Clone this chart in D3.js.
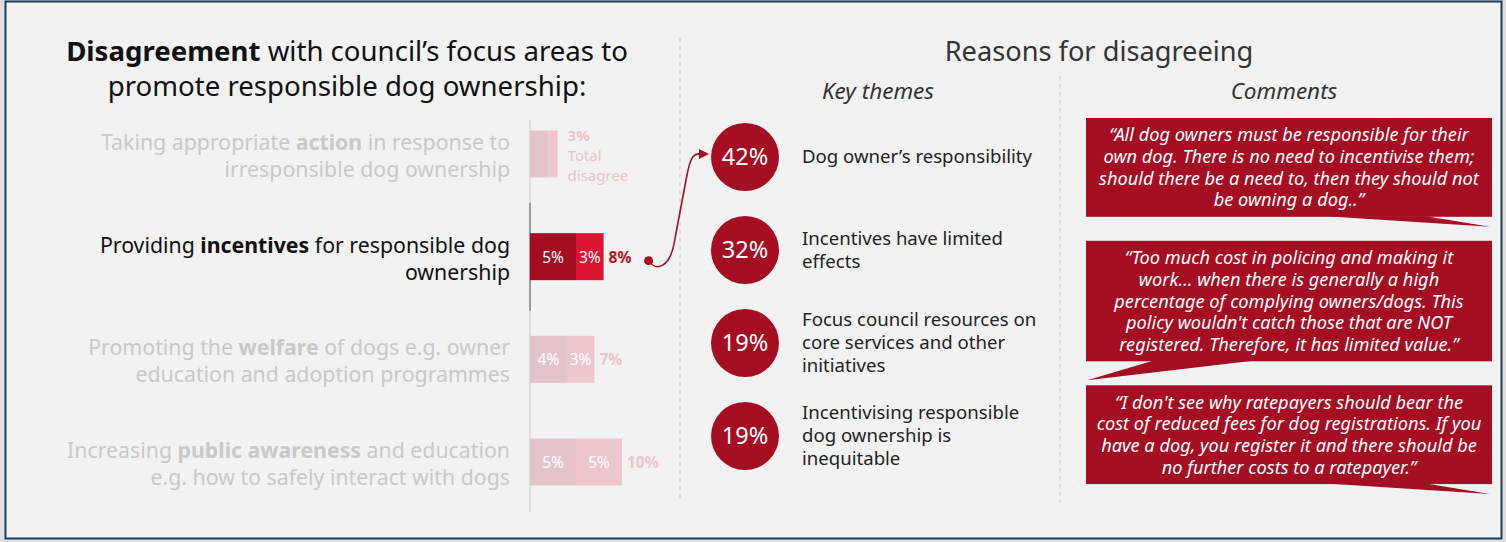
<!DOCTYPE html>
<html>
<head>
<meta charset="utf-8">
<script src="https://cdn.jsdelivr.net/npm/d3@7"></script>
<style>
  html, body { margin: 0; padding: 0; background: #dedede; }
  svg { display: block; }
  text { font-family: "Noto Sans", "Open Sans", sans-serif; }
</style>
</head>
<body>
<svg id="chart" width="1506" height="542"></svg>
<script>
// ---------------- DATA ----------------
const categories = [
  [["Taking appropriate ", false], ["action", true], [" in response to", false], ["|"], ["irresponsible dog ownership", false]],
  [["Providing ", false], ["incentives", true], [" for responsible dog", false], ["|"], ["ownership", false]],
  [["Promoting the ", false], ["welfare", true], [" of dogs e.g. owner", false], ["|"], ["education and adoption programmes", false]],
  [["Increasing ", false], ["public awareness", true], [" and education", false], ["|"], ["e.g. how to safely interact with dogs", false]]
];
const stronglyDisagree = [2, 5, 4, 5];
const somewhatDisagree = [1, 3, 3, 5];
const totalDisagree = [3, 8, 7, 10];
const showSegmentLabels = [false, true, true, true];
const highlighted = 1;

const themeValues = [42, 32, 19, 19];
const themeLabels = [
  ["Dog owner\u2019s responsibility"],
  ["Incentives have limited", "effects"],
  ["Focus council resources on", "core services and other", "initiatives"],
  ["Incentivising responsible", "dog ownership is", "inequitable"]
];

const comments = [
  ["\u201CAll dog owners must be responsible for their", "own dog. There is no need to incentivise them;", "should there be a need to, then they should not", "be owning a dog..\u201D"],
  ["\u201CToo much cost in policing and making it", "work\u2026 when there is generally a high", "percentage of complying owners/dogs. This", "policy wouldn't catch those that are NOT", "registered. Therefore, it has limited value.\u201D"],
  ["\u201CI don't see why ratepayers should bear the", "cost of reduced fees for dog registrations. If you", "have a dog, you register it and there should be", "no further costs to a ratepayer.\u201D"]
];
const tailSides = ["right", "left", "right"];

// ---------------- DRAW ----------------
(function () {
const svg = d3.select("#chart");
const RED_DARK = "#a50e22", RED_LIGHT = "#dc1430";
const FADE_DARK = "#e3c5c9", FADE_LIGHT = "#edc7cc";

// panel
svg.append("rect").attr("x", 5.5).attr("y", 1.5).attr("width", 1496).attr("height", 537)
  .attr("fill", "#f2f2f2").attr("stroke", "#1d3c58").attr("stroke-width", 2);

// dividers
svg.append("line").attr("x1", 680).attr("x2", 680).attr("y1", 38).attr("y2", 502)
  .attr("stroke", "#c8c8c8").attr("stroke-dasharray", "4,4");
svg.append("line").attr("x1", 1060).attr("x2", 1060).attr("y1", 76).attr("y2", 502)
  .attr("stroke", "#c8c8c8").attr("stroke-dasharray", "4,4");

// Title left
const title = svg.append("text").attr("x", 347).attr("y", 61).attr("text-anchor", "middle")
  .attr("font-size", 27.6).attr("fill", "#111");
title.append("tspan").attr("font-weight", 700).text("Disagreement");
title.append("tspan").text(" with council\u2019s focus areas to");
svg.append("text").attr("x", 347).attr("y", 96).attr("text-anchor", "middle")
  .attr("font-size", 27.6).attr("fill", "#111").text("promote responsible dog ownership:");

// Right titles
svg.append("text").attr("x", 1099).attr("y", 61).attr("text-anchor", "middle")
  .attr("font-size", 27.2).attr("fill", "#333").text("Reasons for disagreeing");
svg.append("text").attr("x", 878).attr("y", 99).attr("text-anchor", "middle")
  .attr("font-size", 22.5).attr("font-style", "italic").attr("fill", "#333").text("Key themes");
svg.append("text").attr("x", 1284).attr("y", 99).attr("text-anchor", "middle")
  .attr("font-size", 22.5).attr("font-style", "italic").attr("fill", "#333").text("Comments");

// Bar scales
const x = d3.scaleLinear().domain([0, 10]).range([530, 622]);
const y = d3.scalePoint().domain(d3.range(categories.length)).range([154, 462]);
const barH = 47;

// axis line
svg.append("line").attr("x1", 530).attr("x2", 530).attr("y1", 120).attr("y2", 512)
  .attr("stroke", "#dddddd").attr("stroke-width", 2);
svg.append("line").attr("x1", 530).attr("x2", 530)
  .attr("y1", y(highlighted) - 54).attr("y2", y(highlighted) + 54)
  .attr("stroke", "#9a9a9a").attr("stroke-width", 2);

// category labels
categories.forEach((parts, i) => {
  const isH = i === highlighted;
  const col = isH ? "#111" : "#c9c9c9";
  const split = parts.findIndex(p => p[0] === "|");
  const lines = [parts.slice(0, split), parts.slice(split + 1)];
  lines.forEach((ln, j) => {
    const t = svg.append("text").attr("x", 510).attr("y", y(i) - 4 + j * 27)
      .attr("text-anchor", "end").attr("font-size", 21.3).attr("fill", col);
    ln.forEach(p => t.append("tspan").attr("font-weight", p[1] ? 700 : 400).text(p[0]));
  });
});

// bars
const rows = svg.append("g").selectAll("g").data(d3.range(categories.length)).join("g");
rows.append("rect")
  .attr("x", x(0)).attr("y", i => y(i) - barH / 2)
  .attr("width", i => x(stronglyDisagree[i]) - x(0)).attr("height", barH)
  .attr("fill", i => i === highlighted ? RED_DARK : FADE_DARK);
rows.append("rect")
  .attr("x", i => x(stronglyDisagree[i])).attr("y", i => y(i) - barH / 2)
  .attr("width", i => x(stronglyDisagree[i] + somewhatDisagree[i]) - x(stronglyDisagree[i])).attr("height", barH)
  .attr("fill", i => i === highlighted ? RED_LIGHT : FADE_LIGHT);
rows.filter(i => showSegmentLabels[i]).append("text")
  .attr("x", i => (x(0) + x(stronglyDisagree[i])) / 2).attr("y", i => y(i) + 6)
  .attr("text-anchor", "middle").attr("font-size", 15.5).attr("fill", "#fff")
  .text(i => stronglyDisagree[i] + "%");
rows.filter(i => showSegmentLabels[i]).append("text")
  .attr("x", i => (x(stronglyDisagree[i]) + x(totalDisagree[i])) / 2).attr("y", i => y(i) + 6)
  .attr("text-anchor", "middle").attr("font-size", 15.5).attr("fill", "#fff")
  .text(i => somewhatDisagree[i] + "%");
rows.filter(i => showSegmentLabels[i]).append("text")
  .attr("x", i => x(totalDisagree[i]) + 5).attr("y", i => y(i) + 6)
  .attr("font-size", 15.5).attr("font-weight", 700)
  .attr("fill", i => i === highlighted ? "#b8121f" : "#efc3c8")
  .text(i => totalDisagree[i] + "%");
// first row: total with caption
rows.filter(i => !showSegmentLabels[i]).each(function(i) {
  const g = d3.select(this);
  const t = g.append("text").attr("x", x(totalDisagree[i]) + 10).attr("y", y(i) - 13)
    .attr("font-size", 15).attr("fill", "#efc3c8");
  t.append("tspan").attr("font-weight", 700).text(totalDisagree[i] + "%");
  t.append("tspan").attr("x", x(totalDisagree[i]) + 10).attr("dy", 20).text("Total");
  t.append("tspan").attr("x", x(totalDisagree[i]) + 10).attr("dy", 20).text("disagree");
});

// themes
const ty = d3.scalePoint().domain(d3.range(themeValues.length)).range([157, 436]);
const cx = 745, r = 34;

// connector arrow
const x0 = x(totalDisagree[highlighted]) + 45, y0 = y(highlighted) + 4;
svg.append("circle").attr("cx", x0).attr("cy", y0).attr("r", 4.5).attr("fill", RED_DARK);
svg.append("path")
  .attr("d", `M${x0},${y0} C${x0 + 8},${y0 + 12} ${x0 + 22},${y0 + 6} ${x0 + 26},${y0 - 20} L${x0 + 38},${ty(0) + 20} C${x0 + 42},${ty(0) - 2} ${x0 + 46},${ty(0) - 4} ${cx - r - 10},${ty(0) - 3}`)
  .attr("fill", "none").attr("stroke", RED_DARK).attr("stroke-width", 1.6);
svg.append("path")
  .attr("d", `M${cx - r - 2},${ty(0) - 3} L${cx - r - 12},${ty(0) - 8} L${cx - r - 12},${ty(0) + 2} Z`)
  .attr("fill", RED_DARK);

const th = svg.append("g").selectAll("g").data(themeValues).join("g");
th.append("circle").attr("cx", cx).attr("cy", (d, i) => ty(i)).attr("r", r).attr("fill", RED_DARK);
th.append("text").attr("x", cx).attr("y", (d, i) => ty(i) + 8).attr("text-anchor", "middle")
  .attr("font-size", 23.5).attr("fill", "#fff").text(d => d + "%");
th.each(function(d, i) {
  const lines = themeLabels[i];
  const lh = 23;
  const start = ty(i) - (lines.length - 1) * lh / 2 + 6;
  lines.forEach((l, j) => {
    d3.select(this).append("text").attr("x", 802).attr("y", start + j * lh)
      .attr("font-size", 18.6).attr("fill", "#222").text(l);
  });
});

// comments
const bx0 = 1086, bx1 = 1492, lh = 21.7, padT = 6, padB = 6, gap = 24;
let boxTop = 118;
comments.forEach((lines, k) => {
  const h = lines.length * lh + padT + padB;
  const bottom = boxTop + h;
  svg.append("rect").attr("x", bx0).attr("y", boxTop).attr("width", bx1 - bx0).attr("height", h)
    .attr("fill", RED_DARK);
  let tail;
  if (tailSides[k] === "right") {
    tail = [[bx0 + 240, bottom - 0.5], [bx1 - 2, bottom + 10], [bx0 + 340, bottom - 0.5]];
  } else {
    tail = [[bx0 + 67, bottom - 0.5], [bx0 + 1, bottom + 19], [bx0 + 167, bottom - 0.5]];
  }
  svg.append("path").attr("d", d3.line()(tail) + "Z").attr("fill", RED_DARK);
  lines.forEach((l, j) => {
    svg.append("text").attr("x", (bx0 + bx1) / 2).attr("y", boxTop + padT + lh * (j + 0.5) + 6.5)
      .attr("text-anchor", "middle").attr("font-size", 18.2).attr("font-style", "italic")
      .attr("fill", "#fff").text(l);
  });
  boxTop = bottom + gap;
});
})();
</script>
</body>
</html>
